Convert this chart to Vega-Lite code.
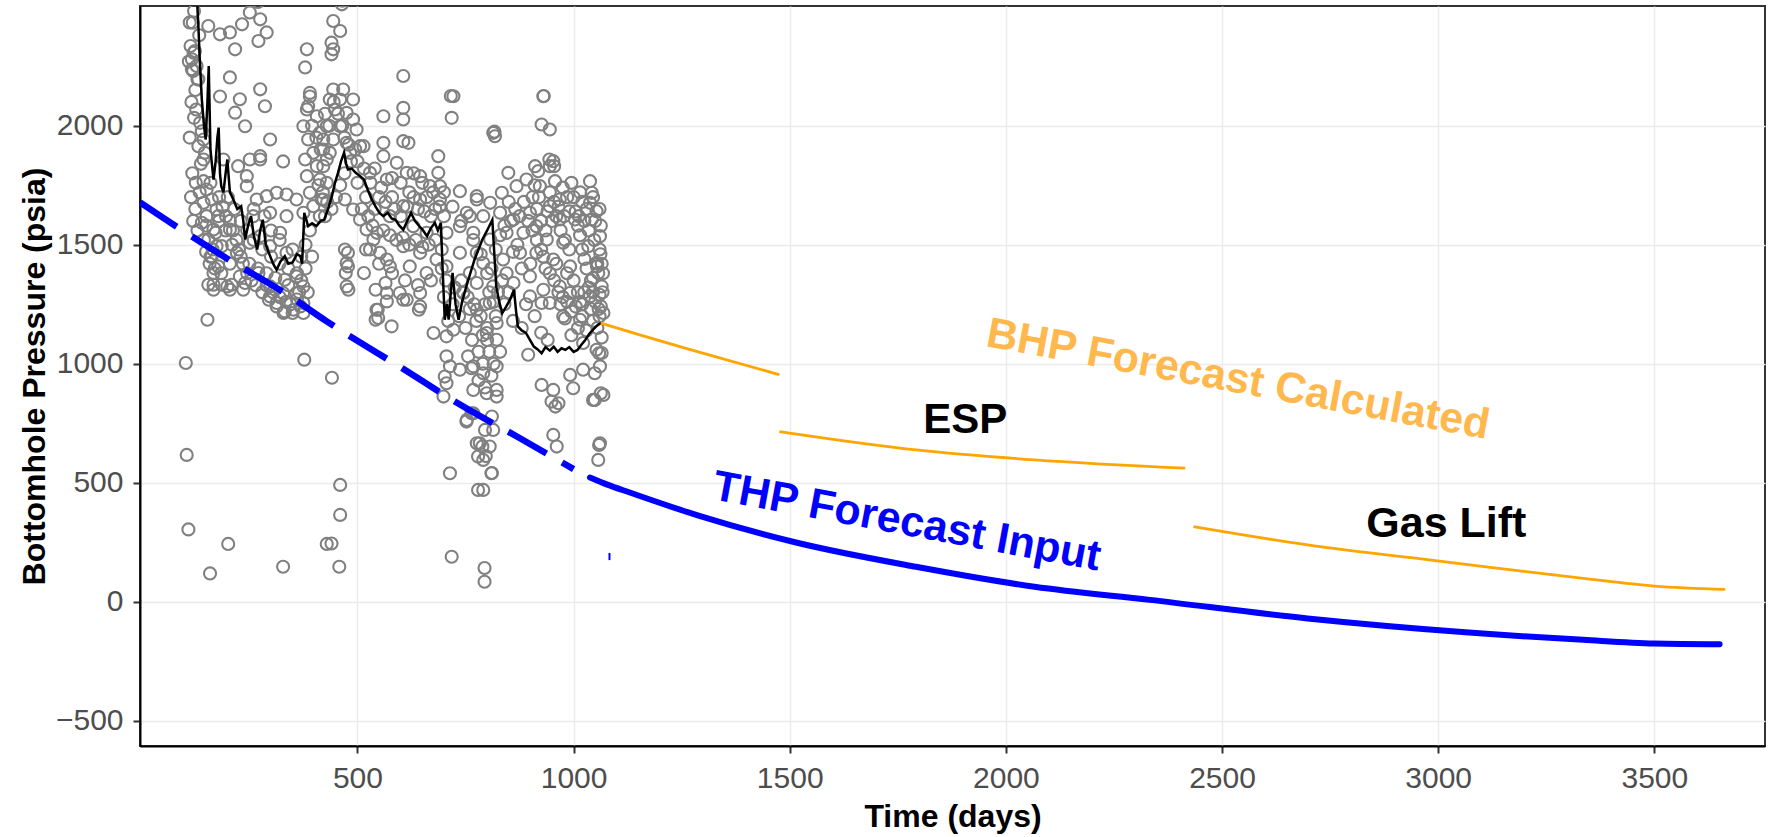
{
"$schema": "https://vega.github.io/schema/vega-lite/v6.json",
"width": 1625, "height": 740,
"autosize": {"type": "none"},
"padding": {"left": 140, "top": 6, "right": 3, "bottom": 91},
"background": "white",
"config": {
 "view": {"stroke": "#333333", "strokeWidth": 2},
 "axis": {"labelFont": "Liberation Sans", "labelFontSize": 30, "labelColor": "#4D4D4D", "titleFont": "Liberation Sans", "titleFontSize": 32, "titleFontWeight": "bold", "titleColor": "black", "domainColor": "black", "domainWidth": 2, "tickColor": "#333333", "tickWidth": 2, "tickSize": 7, "gridColor": "#EBEBEB", "gridWidth": 1.4, "labelPadding": 10, "labelFlush": false, "labelOverlap": false, "format": "d"},
 "axisX": {"titlePadding": 8},
 "axisY": {"titlePadding": 4}
},
"datasets": {
 "points": [
{"day":122,"psi":2482},{"day":119,"psi":2433},{"day":114,"psi":2335},{"day":124,"psi":2314},{"day":117,"psi":2279},{"day":128,"psi":2251},{"day":120,"psi":2230},{"day":132,"psi":2195},{"day":127,"psi":2068},{"day":122,"psi":2033},{"day":136,"psi":2012},{"day":140,"psi":1977},{"day":144,"psi":1942},{"day":132,"psi":1914},{"day":147,"psi":1886},{"day":144,"psi":1858},
{"day":112,"psi":2434},{"day":121,"psi":2307},{"day":117,"psi":2237},{"day":130,"psi":2195},
{"day":144,"psi":1767},{"day":151,"psi":1732},{"day":163,"psi":1690},{"day":144,"psi":1676},{"day":174,"psi":1648},{"day":151,"psi":1620},{"day":140,"psi":1592},{"day":167,"psi":1564},{"day":155,"psi":1522},{"day":174,"psi":1494},{"day":163,"psi":1451},{"day":178,"psi":1409},{"day":167,"psi":1381},{"day":167,"psi":1332},{"day":186,"psi":1332},{"day":209,"psi":1332},{"day":155,"psi":1332},
{"day":190,"psi":1858},{"day":224,"psi":1830},{"day":251,"psi":1858},{"day":244,"psi":1788},{"day":275,"psi":1872},{"day":244,"psi":1746},{"day":267,"psi":1690},{"day":290,"psi":1704},{"day":259,"psi":1620},{"day":313,"psi":1718},{"day":336,"psi":1711},{"day":359,"psi":1690},{"day":298,"psi":1634},{"day":336,"psi":1620},{"day":321,"psi":1550},{"day":275,"psi":1536},{"day":251,"psi":1508},{"day":298,"psi":1494},{"day":336,"psi":1466},{"day":221,"psi":1466},{"day":205,"psi":1564},{"day":186,"psi":1494},{"day":228,"psi":1367},{"day":271,"psi":1381},{"day":298,"psi":1325},{"day":332,"psi":1353},{"day":359,"psi":1367},{"day":375,"psi":1325},{"day":359,"psi":1297},{"day":328,"psi":1297},
{"day":155,"psi":2419},{"day":182,"psi":2384},{"day":205,"psi":2392},{"day":233,"psi":2426},{"day":251,"psi":2476},{"day":275,"psi":2447},{"day":290,"psi":2392},{"day":271,"psi":2356},{"day":217,"psi":2321},{"day":205,"psi":2203},{"day":182,"psi":2123},{"day":228,"psi":2111},{"day":217,"psi":2055},{"day":240,"psi":1998},{"day":275,"psi":2153},{"day":286,"psi":2082},{"day":298,"psi":1942},{"day":275,"psi":1858},{"day":328,"psi":1850},{"day":383,"psi":2321},{"day":379,"psi":2245},{"day":390,"psi":2123},{"day":386,"psi":2082},{"day":375,"psi":1998},
{"day":390,"psi":2138},{"day":383,"psi":2068},{"day":406,"psi":2040},{"day":386,"psi":1942},{"day":413,"psi":1970},{"day":398,"psi":1886},{"day":421,"psi":1900},{"day":379,"psi":1858},{"day":406,"psi":1830},{"day":429,"psi":1858},{"day":383,"psi":1788},{"day":413,"psi":1774},{"day":390,"psi":1718},{"day":421,"psi":1690},{"day":398,"psi":1662},{"day":375,"psi":1634},{"day":413,"psi":1620},
{"day":444,"psi":2440},{"day":460,"psi":2398},{"day":440,"psi":2349},{"day":444,"psi":2321},{"day":440,"psi":2300},{"day":464,"psi":2510},{"day":606,"psi":2209},{"day":722,"psi":2124},{"day":718,"psi":2033},{"day":560,"psi":2040},{"day":606,"psi":2075},{"day":606,"psi":2026},
{"day":444,"psi":2152},{"day":467,"psi":2152},{"day":436,"psi":2110},{"day":460,"psi":2110},{"day":490,"psi":2110},{"day":448,"psi":2068},{"day":475,"psi":2054},{"day":490,"psi":2026},{"day":429,"psi":1998},{"day":460,"psi":1998},{"day":498,"psi":1984},{"day":421,"psi":1942},{"day":444,"psi":1942},{"day":475,"psi":1928},{"day":506,"psi":1914},{"day":436,"psi":1886},{"day":483,"psi":1886},
{"day":421,"psi":1830},{"day":429,"psi":1760},{"day":417,"psi":1690},{"day":425,"psi":1620},
{"day":471,"psi":1690},{"day":490,"psi":1648},{"day":506,"psi":1606},{"day":521,"psi":1564},{"day":537,"psi":1522},{"day":529,"psi":1480},{"day":552,"psi":1466},{"day":575,"psi":1409},{"day":568,"psi":1438},
{"day":471,"psi":1480},{"day":475,"psi":1423},{"day":473,"psi":1381},{"day":475,"psi":1325},
{"day":514,"psi":1914},{"day":560,"psi":1928},{"day":560,"psi":1872},{"day":606,"psi":1935},{"day":618,"psi":1928},{"day":591,"psi":1844},{"day":614,"psi":1802},{"day":568,"psi":1774},{"day":529,"psi":1802},{"day":645,"psi":1788},{"day":668,"psi":1746},{"day":687,"psi":1872},{"day":687,"psi":1802},{"day":691,"psi":1746},{"day":691,"psi":1690},{"day":737,"psi":1725},{"day":776,"psi":1690},{"day":645,"psi":1690},{"day":606,"psi":1662},{"day":575,"psi":1620},{"day":629,"psi":1578},{"day":660,"psi":1550},{"day":706,"psi":1550},{"day":737,"psi":1578},{"day":753,"psi":1634},{"day":768,"psi":1550},{"day":606,"psi":1494},{"day":645,"psi":1466},{"day":683,"psi":1438},{"day":737,"psi":1466},{"day":776,"psi":1466},{"day":621,"psi":1409},{"day":660,"psi":1381},{"day":706,"psi":1409},{"day":568,"psi":1297},{"day":598,"psi":1297},{"day":645,"psi":1297},{"day":745,"psi":1297},{"day":760,"psi":1381},
{"day":930,"psi":2124},{"day":926,"psi":2005},{"day":945,"psi":1984},{"day":814,"psi":1970},{"day":818,"psi":1956},{"day":953,"psi":1851},{"day":945,"psi":1830},{"day":911,"psi":1830},{"day":918,"psi":1809},{"day":849,"psi":1802},{"day":957,"psi":1767},{"day":1038,"psi":1767},{"day":1042,"psi":1718},{"day":1038,"psi":1676},{"day":1053,"psi":1641},{"day":1042,"psi":1606},{"day":1061,"psi":1536},{"day":1034,"psi":1494},{"day":1053,"psi":1424},{"day":1057,"psi":1381},{"day":1065,"psi":1325},{"day":1003,"psi":1606},{"day":976,"psi":1508},
{"day":776,"psi":1704},{"day":807,"psi":1676},{"day":834,"psi":1718},{"day":868,"psi":1746},{"day":891,"psi":1774},{"day":922,"psi":1746},{"day":968,"psi":1690},{"day":945,"psi":1662},{"day":899,"psi":1634},{"day":861,"psi":1606},{"day":830,"psi":1634},{"day":791,"psi":1620},{"day":768,"psi":1520},{"day":807,"psi":1522},{"day":845,"psi":1550},{"day":884,"psi":1550},{"day":914,"psi":1578},{"day":938,"psi":1522},{"day":968,"psi":1606},{"day":876,"psi":1466},{"day":914,"psi":1466},{"day":837,"psi":1438},{"day":791,"psi":1423},{"day":953,"psi":1438},{"day":992,"psi":1409},{"day":899,"psi":1367},{"day":861,"psi":1339},{"day":814,"psi":1325},{"day":930,"psi":1311},{"day":968,"psi":1325},{"day":776,"psi":1339},
{"day":716,"psi":2125},{"day":817,"psi":1975},{"day":931,"psi":2125},{"day":944,"psi":1858},{"day":955,"psi":1830},{"day":1063,"psi":1580},{"day":1054,"psi":1409},{"day":1063,"psi":1241},{"day":1059,"psi":1044},{"day":1063,"psi":876},{"day":1045,"psi":848},{"day":103,"psi":1003},{"day":153,"psi":1185},{"day":377,"psi":1017},{"day":441,"psi":941},
{"day":547,"psi":1227},{"day":579,"psi":1157},{"day":606,"psi":1269},{"day":642,"psi":1227},{"day":542,"psi":1185},
{"day":199,"psi":1325},{"day":240,"psi":1339},{"day":295,"psi":1269},{"day":332,"psi":1220},{"day":368,"psi":1241},{"day":313,"psi":1255},{"day":350,"psi":1213},
{"day":478,"psi":1466},{"day":478,"psi":1409},{"day":515,"psi":1381},{"day":542,"psi":1311},{"day":565,"psi":1339},
{"day":105,"psi":617},{"day":109,"psi":304},{"day":201,"psi":243},{"day":159,"psi":119},{"day":328,"psi":147},{"day":429,"psi":243},
{"day":167,"psi":1311},{"day":205,"psi":1311},{"day":236,"psi":1311},{"day":298,"psi":1283},{"day":313,"psi":1241},{"day":329,"psi":1213},{"day":352,"psi":1227},{"day":375,"psi":1255},{"day":375,"psi":1213},
{"day":479,"psi":1311},{"day":544,"psi":1227},{"day":548,"psi":1192},{"day":568,"psi":1262},{"day":614,"psi":1269},{"day":645,"psi":1241},{"day":676,"psi":1129},{"day":706,"psi":1115},{"day":722,"psi":1143},{"day":706,"psi":1031},{"day":714,"psi":989},{"day":737,"psi":975},{"day":756,"psi":1031},{"day":764,"psi":981},{"day":768,"psi":890},{"day":702,"psi":946},{"day":699,"psi":862},{"day":706,"psi":918},{"day":753,"psi":764},{"day":764,"psi":792},{"day":776,"psi":666},{"day":779,"psi":610},{"day":714,"psi":540},{"day":779,"psi":470},{"day":460,"psi":491},{"day":460,"psi":365},{"day":440,"psi":245},{"day":458,"psi":147},{"day":718,"psi":189},{"day":794,"psi":84},{"day":794,"psi":142},
{"day":791,"psi":470},{"day":810,"psi":540},{"day":791,"psi":596},{"day":806,"psi":652},{"day":783,"psi":666},{"day":814,"psi":722},{"day":795,"psi":722},{"day":768,"psi":792},{"day":799,"psi":876},{"day":822,"psi":862},{"day":822,"psi":890},{"day":768,"psi":989},{"day":791,"psi":960},{"day":822,"psi":989},{"day":799,"psi":1129},{"day":822,"psi":1101},{"day":822,"psi":1171},{"day":776,"psi":1227},{"day":806,"psi":1255},{"day":899,"psi":1283},{"day":926,"psi":1255},{"day":945,"psi":1255},{"day":895,"psi":1038},{"day":926,"psi":911},{"day":953,"psi":890},{"day":949,"psi":841},{"day":965,"psi":834},{"day":953,"psi":701},{"day":961,"psi":652},{"day":992,"psi":953},{"day":999,"psi":897},{"day":1022,"psi":975},{"day":1049,"psi":960},{"day":1061,"psi":989},{"day":1049,"psi":848},{"day":1069,"psi":869},{"day":1061,"psi":666},{"day":1057,"psi":596},{"day":1022,"psi":1087},{"day":1053,"psi":1059},{"day":1065,"psi":1045},{"day":1069,"psi":1213},{"day":976,"psi":1199},{"day":992,"psi":1297},{"day":1015,"psi":1185},{"day":1038,"psi":1283},
{"day":752,"psi":757},{"day":811,"psi":778},{"day":789,"psi":652},{"day":797,"psi":612},{"day":811,"psi":541},{"day":958,"psi":820},{"day":1059,"psi":659},
{"day":905,"psi":1700},{"day":915,"psi":1650},{"day":925,"psi":1600},{"day":935,"psi":1560},{"day":945,"psi":1720},{"day":955,"psi":1680},{"day":960,"psi":1620},{"day":970,"psi":1560},{"day":980,"psi":1520},{"day":990,"psi":1480},{"day":1000,"psi":1700},{"day":1005,"psi":1640},{"day":1010,"psi":1580},{"day":1015,"psi":1540},{"day":1020,"psi":1480},{"day":1025,"psi":1440},{"day":1030,"psi":1400},{"day":1040,"psi":1350},{"day":1045,"psi":1300},{"day":1050,"psi":1260},{"day":1000,"psi":1350},{"day":1010,"psi":1300},{"day":1020,"psi":1250},{"day":985,"psi":1380},{"day":960,"psi":1420},{"day":930,"psi":1450},{"day":900,"psi":1420},{"day":880,"psi":1400},{"day":870,"psi":1500},{"day":860,"psi":1470},{"day":850,"psi":1680},{"day":840,"psi":1580},{"day":830,"psi":1540},{"day":820,"psi":1480},{"day":810,"psi":1400},{"day":800,"psi":1380},{"day":785,"psi":1460},{"day":975,"psi":1740},{"day":995,"psi":1760},{"day":1015,"psi":1720},{"day":1030,"psi":1650},{"day":1050,"psi":1600},{"day":1060,"psi":1480},{"day":1065,"psi":1420},{"day":1060,"psi":1200},{"day":1055,"psi":1150},{"day":1065,"psi":1110},{"day":1045,"psi":1180},{"day":1030,"psi":1140},{"day":1020,"psi":1200},{"day":1010,"psi":1150},{"day":995,"psi":1120},{"day":980,"psi":1190},{"day":970,"psi":1250},{"day":1060,"psi":1290},{"day":1040,"psi":1230},
{"day":720,"psi":1250},{"day":735,"psi":1200},{"day":750,"psi":1150},{"day":760,"psi":1230},{"day":745,"psi":1300},{"day":700,"psi":1280},{"day":710,"psi":1180},{"day":765,"psi":1100},{"day":780,"psi":1050},{"day":790,"psi":1000},{"day":800,"psi":1100},{"day":820,"psi":1200},{"day":840,"psi":1250},{"day":850,"psi":1300},{"day":830,"psi":1050},{"day":800,"psi":1150},{"day":860,"psi":1180},{"day":880,"psi":1150},{"day":890,"psi":1250},{"day":910,"psi":1200},{"day":925,"psi":1130},{"day":940,"psi":1100},
{"day":520,"psi":1700},{"day":540,"psi":1650},{"day":555,"psi":1740},{"day":580,"psi":1700},{"day":600,"psi":1760},{"day":620,"psi":1720},{"day":640,"psi":1650},{"day":660,"psi":1700},{"day":680,"psi":1650},{"day":700,"psi":1620},{"day":720,"psi":1660},{"day":740,"psi":1600},{"day":760,"psi":1620},{"day":500,"psi":1760},{"day":540,"psi":1820},{"day":580,"psi":1780},{"day":630,"psi":1800},{"day":650,"psi":1760},{"day":670,"psi":1620},{"day":700,"psi":1720},
{"day":200,"psi":1700},{"day":215,"psi":1650},{"day":230,"psi":1600},{"day":245,"psi":1560},{"day":260,"psi":1520},{"day":280,"psi":1480},{"day":300,"psi":1450},{"day":320,"psi":1420},{"day":340,"psi":1400},{"day":360,"psi":1380},{"day":210,"psi":1500},{"day":230,"psi":1450},{"day":250,"psi":1420},{"day":270,"psi":1400},{"day":290,"psi":1380},{"day":310,"psi":1360},{"day":340,"psi":1330},{"day":365,"psi":1300},{"day":180,"psi":1600},{"day":195,"psi":1560},{"day":350,"psi":1480},{"day":370,"psi":1450},{"day":380,"psi":1500},{"day":390,"psi":1560},{"day":395,"psi":1450},{"day":380,"psi":1400},{"day":370,"psi":1350},{"day":385,"psi":1300},{"day":300,"psi":1560},{"day":320,"psi":1520},{"day":260,"psi":1650},{"day":285,"psi":1620},{"day":180,"psi":1700},{"day":160,"psi":1760},{"day":150,"psi":1580},{"day":160,"psi":1450},{"day":170,"psi":1400},{"day":185,"psi":1380},{"day":205,"psi":1420},
{"day":130,"psi":2540},{"day":245,"psi":2530},{"day":270,"psi":2520},{"day":465,"psi":2525},
{"day":115,"psi":1700},{"day":125,"psi":1650},{"day":135,"psi":1720},{"day":120,"psi":1600},{"day":130,"psi":1560},{"day":145,"psi":1520},{"day":150,"psi":1470},{"day":158,"psi":1420},{"day":165,"psi":1480},{"day":172,"psi":1550},{"day":178,"psi":1620},{"day":188,"psi":1660},{"day":196,"psi":1620},{"day":205,"psi":1600},{"day":212,"psi":1560},{"day":220,"psi":1520},{"day":226,"psi":1480},{"day":235,"psi":1420},{"day":245,"psi":1380},{"day":255,"psi":1350},{"day":265,"psi":1330},{"day":280,"psi":1300},{"day":290,"psi":1330},{"day":305,"psi":1300},{"day":320,"psi":1280},{"day":335,"psi":1260},{"day":345,"psi":1250},{"day":360,"psi":1270},{"day":118,"psi":1800},{"day":126,"psi":1760},{"day":138,"psi":1840},{"day":112,"psi":1950},{"day":116,"psi":2100},{"day":125,"psi":2150},{"day":134,"psi":2380},{"day":110,"psi":2270},
{"day":395,"psi":2000},{"day":405,"psi":1950},{"day":415,"psi":1900},{"day":425,"psi":2050},{"day":435,"psi":2000},{"day":445,"psi":2100},{"day":455,"psi":2050},{"day":465,"psi":2000},{"day":470,"psi":1950},{"day":480,"psi":1920},{"day":410,"psi":1750},{"day":420,"psi":1720},{"day":430,"psi":1680},{"day":440,"psi":1650},{"day":450,"psi":1700},{"day":460,"psi":1750},{"day":470,"psi":1800},{"day":485,"psi":1850},{"day":495,"psi":1900},{"day":500,"psi":1850},
{"day":510,"psi":1650},{"day":525,"psi":1620},{"day":535,"psi":1580},{"day":545,"psi":1550},{"day":560,"psi":1560},{"day":575,"psi":1540},{"day":590,"psi":1520},{"day":605,"psi":1530},{"day":620,"psi":1500},{"day":635,"psi":1520},{"day":650,"psi":1490},{"day":665,"psi":1500},{"day":680,"psi":1520},{"day":695,"psi":1480},{"day":515,"psi":1820},{"day":530,"psi":1760},{"day":550,"psi":1700},{"day":565,"psi":1680},{"day":585,"psi":1650},{"day":600,"psi":1620},{"day":615,"psi":1660},{"day":630,"psi":1700},{"day":655,"psi":1640},{"day":675,"psi":1720},{"day":690,"psi":1660},{"day":520,"psi":1480},{"day":550,"psi":1420},{"day":580,"psi":1380},{"day":610,"psi":1350},{"day":640,"psi":1330},{"day":670,"psi":1350},{"day":695,"psi":1400},
{"day":855,"psi":1600},{"day":865,"psi":1650},{"day":875,"psi":1620},{"day":885,"psi":1680},{"day":895,"psi":1600},{"day":905,"psi":1560},{"day":915,"psi":1520},{"day":925,"psi":1480},{"day":935,"psi":1400},{"day":945,"psi":1380},{"day":955,"psi":1350},{"day":965,"psi":1300},{"day":975,"psi":1280},{"day":985,"psi":1260},{"day":995,"psi":1220},{"day":1005,"psi":1240},{"day":1015,"psi":1260},{"day":1025,"psi":1300},{"day":1035,"psi":1320},{"day":1045,"psi":1360},{"day":1055,"psi":1420},{"day":1062,"psi":1460},{"day":1068,"psi":1380},{"day":1067,"psi":1300},{"day":1058,"psi":1230},{"day":1048,"psi":1520},{"day":1035,"psi":1560},{"day":1025,"psi":1600},{"day":1012,"psi":1620},{"day":990,"psi":1640},{"day":978,"psi":1620},{"day":965,"psi":1660},{"day":950,"psi":1600},{"day":940,"psi":1640},{"day":920,"psi":1700},{"day":910,"psi":1750},{"day":985,"psi":1700},{"day":1020,"psi":1680},{"day":1045,"psi":1700},{"day":1060,"psi":1650},
{"day":705,"psi":1350},{"day":725,"psi":1320},{"day":740,"psi":1350},{"day":755,"psi":1280},{"day":770,"psi":1250},{"day":785,"psi":1200},{"day":795,"psi":1250},{"day":805,"psi":1300},{"day":815,"psi":1260},{"day":825,"psi":1300},{"day":835,"psi":1350},{"day":845,"psi":1380},{"day":775,"psi":1180},{"day":790,"psi":1120},{"day":805,"psi":1050},{"day":815,"psi":1000},{"day":780,"psi":930},{"day":795,"psi":900},{"day":810,"psi":950}
 ],
 "smooth": [
{"day":122,"psi":2700},{"day":128,"psi":2560},{"day":132,"psi":2420},{"day":136,"psi":2250},{"day":140,"psi":2111},{"day":145,"psi":2000},{"day":149,"psi":1942},{"day":153,"psi":2100},{"day":156,"psi":2251},{"day":160,"psi":1900},{"day":167,"psi":1774},{"day":172,"psi":1850},{"day":176,"psi":1950},{"day":179,"psi":1992},{"day":182,"psi":1800},{"day":185,"psi":1746},{"day":190,"psi":1720},{"day":195,"psi":1800},{"day":199,"psi":1858},{"day":205,"psi":1720},{"day":213,"psi":1690},{"day":222,"psi":1650},{"day":231,"psi":1662},{"day":236,"psi":1600},{"day":240,"psi":1522},{"day":247,"psi":1580},{"day":254,"psi":1620},{"day":260,"psi":1540},{"day":268,"psi":1480},{"day":275,"psi":1560},{"day":281,"psi":1605},{"day":288,"psi":1500},{"day":295,"psi":1466},{"day":305,"psi":1420},{"day":313,"psi":1395},{"day":322,"psi":1430},{"day":332,"psi":1452},{"day":340,"psi":1420},{"day":350,"psi":1426},{"day":360,"psi":1460},{"day":368,"psi":1452},{"day":372,"psi":1420},{"day":377,"psi":1634},{"day":386,"psi":1578},{"day":395,"psi":1590},{"day":405,"psi":1578},{"day":415,"psi":1600},{"day":423,"psi":1605},{"day":432,"psi":1650},{"day":441,"psi":1704},{"day":448,"psi":1760},{"day":455,"psi":1802},{"day":462,"psi":1850},{"day":469,"psi":1886},{"day":474,"psi":1840},{"day":478,"psi":1816},{"day":487,"psi":1820},{"day":496,"psi":1802},{"day":505,"psi":1790},{"day":515,"psi":1774},{"day":524,"psi":1730},{"day":533,"psi":1690},{"day":542,"psi":1660},{"day":551,"psi":1634},{"day":560,"psi":1620},{"day":570,"psi":1634},{"day":579,"psi":1610},{"day":588,"psi":1605},{"day":597,"psi":1580},{"day":606,"psi":1563},{"day":615,"psi":1600},{"day":624,"psi":1634},{"day":633,"psi":1600},{"day":643,"psi":1578},{"day":652,"psi":1560},{"day":661,"psi":1536},{"day":670,"psi":1570},{"day":679,"psi":1592},{"day":686,"psi":1560},{"day":693,"psi":1592},{"day":697,"psi":1400},{"day":702,"psi":1185},{"day":707,"psi":1250},{"day":711,"psi":1185},{"day":716,"psi":1300},{"day":720,"psi":1382},{"day":727,"psi":1250},{"day":734,"psi":1185},{"day":742,"psi":1260},{"day":752,"psi":1325},{"day":761,"psi":1380},{"day":771,"psi":1438},{"day":780,"psi":1480},{"day":789,"psi":1522},{"day":800,"psi":1560},{"day":812,"psi":1605},{"day":817,"psi":1450},{"day":821,"psi":1325},{"day":828,"psi":1260},{"day":835,"psi":1213},{"day":844,"psi":1240},{"day":853,"psi":1269},{"day":862,"psi":1311},{"day":867,"psi":1220},{"day":871,"psi":1157},{"day":880,"psi":1140},{"day":890,"psi":1129},{"day":899,"psi":1100},{"day":908,"psi":1072},{"day":917,"psi":1060},{"day":926,"psi":1044},{"day":935,"psi":1070},{"day":945,"psi":1055},{"day":954,"psi":1072},{"day":963,"psi":1050},{"day":972,"psi":1065},{"day":981,"psi":1058},{"day":990,"psi":1070},{"day":1000,"psi":1050},{"day":1009,"psi":1058},{"day":1018,"psi":1080},{"day":1027,"psi":1100},{"day":1036,"psi":1125},{"day":1045,"psi":1143},{"day":1054,"psi":1160},{"day":1063,"psi":1171}
 ],
 "thpDashed": [
{"day":-3,"psi":1678},{"day":74,"psi":1585},{"day":200,"psi":1440},{"day":344,"psi":1283},{"day":429,"psi":1178},{"day":600,"psi":985},{"day":745,"psi":820},{"day":876,"psi":687},{"day":1000,"psi":557}
 ],
 "thpSolid": [
{"day":1038,"psi":522},{"day":1078,"psi":492},{"day":1130,"psi":459},{"day":1289,"psi":362},{"day":1517,"psi":248},{"day":1792,"psi":147},{"day":2066,"psi":63},{"day":2333,"psi":8},{"day":2698,"psi":-70},{"day":3063,"psi":-128},{"day":3336,"psi":-160},{"day":3500,"psi":-175},{"day":3651,"psi":-178}
 ],
 "thpTick": [
{"day":1083,"psi":175},{"day":1083,"psi":205}
 ],
 "bhp": [
{"seg":"natural","day":1063,"psi":1171},{"seg":"natural","day":1151,"psi":1122},{"seg":"natural","day":1270,"psi":1059},{"seg":"natural","day":1476,"psi":954},
{"seg":"ESP","day":1476,"psi":715},{"seg":"ESP","day":1792,"psi":638},{"seg":"ESP","day":2066,"psi":596},{"seg":"ESP","day":2415,"psi":561},
{"seg":"Gas Lift","day":2434,"psi":316},{"seg":"Gas Lift","day":2698,"psi":239},{"seg":"Gas Lift","day":3017,"psi":168},{"seg":"Gas Lift","day":3336,"psi":98},{"seg":"Gas Lift","day":3500,"psi":66},{"seg":"Gas Lift","day":3664,"psi":52}
 ]
},
"encoding": {
 "x": {"field": "day", "type": "quantitative", "scale": {"domain": [-3, 3756], "nice": false, "zero": false}, "axis": {"title": "Time (days)", "values": [500, 1000, 1500, 2000, 2500, 3000, 3500]}},
 "y": {"field": "psi", "type": "quantitative", "scale": {"domain": [-606, 2503], "nice": false, "zero": false}, "axis": {"title": "Bottomhole Pressure (psia)", "values": [-500, 0, 500, 1000, 1500, 2000]}}
},
"layer": [
 {"data": {"name": "points"}, "mark": {"type": "point", "shape": "circle", "filled": false, "color": "#808080", "strokeWidth": 2.1, "size": 145, "opacity": 1, "clip": true}},
 {"data": {"name": "smooth"}, "mark": {"type": "line", "color": "black", "strokeWidth": 2.5, "clip": true}, "encoding": {}},
 {"data": {"name": "thpDashed"}, "mark": {"type": "line", "color": "#0000FF", "strokeWidth": 6.5, "strokeDash": [44, 18], "strokeCap": "butt", "interpolate": "monotone", "clip": true}, "encoding": {}},
 {"data": {"name": "thpSolid"}, "mark": {"type": "line", "color": "#0000FF", "strokeWidth": 6, "strokeCap": "round", "interpolate": "monotone", "clip": true}, "encoding": {}},
 {"data": {"name": "thpTick"}, "mark": {"type": "line", "color": "#0000FF", "strokeWidth": 2, "clip": true}, "encoding": {}},
 {"data": {"name": "bhp"}, "mark": {"type": "line", "color": "#FFA500", "strokeWidth": 2.8, "interpolate": "monotone", "clip": true}, "encoding": {"detail": {"field": "seg", "type": "nominal"}}},
 {"data": {"values": [{"day": 2537, "psi": 933, "label": "BHP Forecast Calculated"}]}, "mark": {"type": "text", "font": "Liberation Sans", "fontWeight": "bold", "fontSize": 43, "color": "#FFB84D", "angle": 10.5, "align": "center", "baseline": "middle"}, "encoding": {"text": {"field": "label"}}},
 {"data": {"values": [{"day": 1771, "psi": 335, "label": "THP Forecast Input"}]}, "mark": {"type": "text", "font": "Liberation Sans", "fontWeight": "bold", "fontSize": 43, "color": "#0000FF", "angle": 10.5, "align": "center", "baseline": "middle"}, "encoding": {"text": {"field": "label"}}},
 {"data": {"values": [{"day": 1906, "psi": 764, "label": "ESP"}]}, "mark": {"type": "text", "font": "Liberation Sans", "fontWeight": "bold", "fontSize": 42, "color": "black", "align": "center", "baseline": "middle"}, "encoding": {"text": {"field": "label"}}},
 {"data": {"values": [{"day": 3019, "psi": 327, "label": "Gas Lift"}]}, "mark": {"type": "text", "font": "Liberation Sans", "fontWeight": "bold", "fontSize": 43, "color": "black", "align": "center", "baseline": "middle"}, "encoding": {"text": {"field": "label"}}}
]
}
